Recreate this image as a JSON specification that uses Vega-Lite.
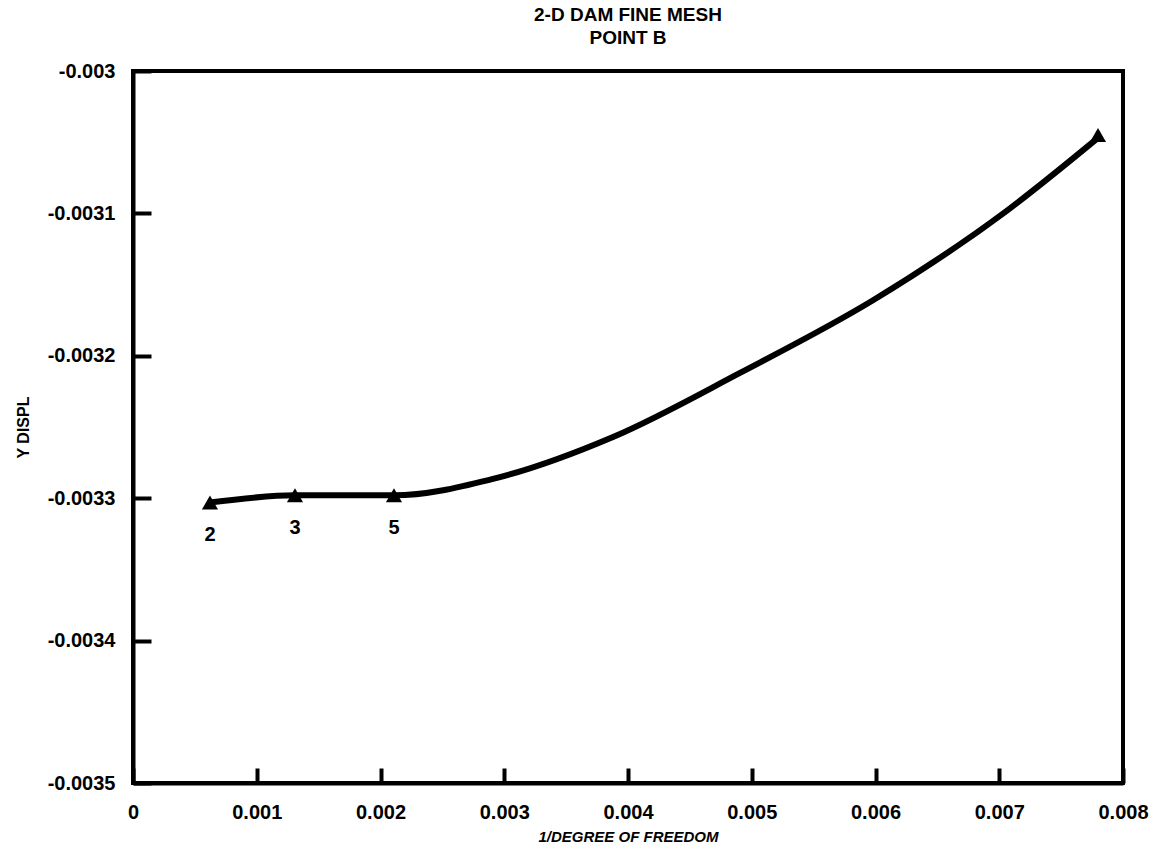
{
  "$schema": "https://vega.github.io/schema/vega-lite/v6.json",
  "width": 990,
  "height": 712,
  "autosize": "none",
  "padding": {"left": 133, "top": 71, "right": 29, "bottom": 67},
  "background": "white",
  "config": {
    "font": "Liberation Sans",
    "view": {"stroke": "black", "strokeWidth": 4},
    "axis": {"grid": false, "domainColor": "black", "domainWidth": 4, "tickColor": "black", "tickWidth": 4, "labelColor": "black", "titleColor": "black", "labelFontWeight": "bold", "titleFontWeight": "bold", "labelFont": "Liberation Sans", "titleFont": "Liberation Sans"}
  },
  "title": {
    "text": ["2-D DAM FINE MESH", "POINT B"],
    "fontSize": 19,
    "fontWeight": "bold",
    "lineHeight": 23,
    "anchor": "middle",
    "offset": 13,
    "color": "black"
  },
  "datasets": {
    "curve": [
      {"x": 0.000622, "y": -0.003303},
      {"x": 0.001309, "y": -0.003298},
      {"x": 0.002109, "y": -0.003298},
      {"x": 0.002885, "y": -0.003287},
      {"x": 0.003879, "y": -0.003257},
      {"x": 0.004905, "y": -0.003212},
      {"x": 0.005980, "y": -0.003161},
      {"x": 0.007063, "y": -0.003098},
      {"x": 0.007798, "y": -0.003047}
    ],
    "pts": [
      {"x": 0.000622, "y": -0.003303, "label": "2"},
      {"x": 0.001309, "y": -0.003298, "label": "3"},
      {"x": 0.002109, "y": -0.003298, "label": "5"},
      {"x": 0.007798, "y": -0.003045, "label": ""}
    ]
  },
  "layer": [
    {
      "data": {"name": "curve"},
      "mark": {"type": "line", "color": "black", "strokeWidth": 6, "interpolate": "monotone", "strokeCap": "round"},
      "encoding": {
        "x": {"field": "x", "type": "quantitative", "scale": {"domain": [0, 0.008], "nice": false},
          "axis": {"values": [0, 0.001, 0.002, 0.003, 0.004, 0.005, 0.006, 0.007, 0.008], "labelExpr": "format(datum.value, '~g')", "tickSize": -15, "labelPadding": 34, "labelFontSize": 20, "title": "1/DEGREE OF FREEDOM", "titleFontSize": 15, "titleFontStyle": "italic", "titlePadding": 7, "labelFlush": false}},
        "y": {"field": "y", "type": "quantitative", "scale": {"domain": [-0.0035, -0.003], "nice": false, "zero": false},
          "axis": {"values": [-0.0035, -0.0034, -0.0033, -0.0032, -0.0031, -0.003], "labelExpr": "replace(format(datum.value, '~g'), '\u2212', '-')", "tickSize": -18, "labelPadding": 36, "labelFontSize": 20, "title": "Y DISPL", "titleFontSize": 16, "titlePadding": 16, "labelFlush": false}}
      }
    },
    {
      "data": {"name": "pts"},
      "mark": {"type": "point", "shape": "triangle-up", "filled": true, "color": "black", "size": 260, "opacity": 1},
      "encoding": {
        "x": {"field": "x", "type": "quantitative"},
        "y": {"field": "y", "type": "quantitative"}
      }
    },
    {
      "data": {"name": "pts"},
      "mark": {"type": "text", "color": "black", "fontSize": 20, "fontWeight": "bold", "dy": 33, "font": "Liberation Sans"},
      "encoding": {
        "x": {"field": "x", "type": "quantitative"},
        "y": {"field": "y", "type": "quantitative"},
        "text": {"field": "label"}
      }
    }
  ]
}
